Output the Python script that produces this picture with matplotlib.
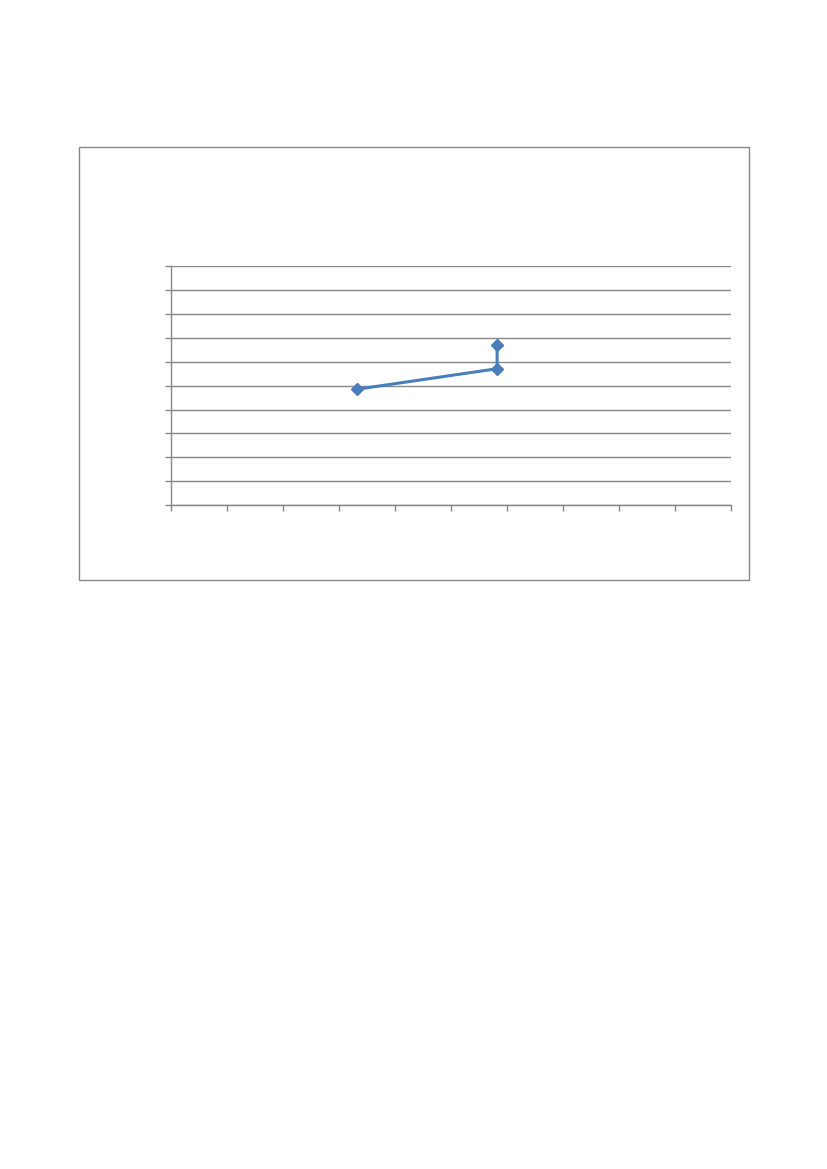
import matplotlib
matplotlib.use("Agg")
import matplotlib.pyplot as plt
from matplotlib.patches import Rectangle

x_values = [3.33, 5.83, 5.83]
y_values = [4.85, 5.71, 6.70]
x_ticks = list(range(0, 11))
y_ticks = list(range(0, 11))

W, H = 827, 1169
fig = plt.figure(figsize=(W / 100, H / 100), dpi=100)
fig.patch.set_facecolor("white")

# chart border box
box = Rectangle((78.5 / W, 1 - 580 / H), (748.5 - 78.5) / W, (580 - 147) / H,
                transform=fig.transFigure, fill=False, edgecolor="#868686", linewidth=1.0)
fig.patches.append(box)

left, right, top, bottom = 170.5, 730.7, 266.3, 505.0
ax = fig.add_axes([left / W, 1 - bottom / H, (right - left) / W, (bottom - top) / H])
ax.set_xlim(0, 10)
ax.set_ylim(0, 10)
ax.set_xticks(x_ticks)
ax.set_yticks(y_ticks)
ax.set_xticklabels([])
ax.set_yticklabels([])
ax.tick_params(axis="both", color="#868686", length=4, width=1.0, direction="out")
for s in ["top", "right"]:
    ax.spines[s].set_visible(False)
for s in ["left", "bottom"]:
    ax.spines[s].set_color("#868686")
    ax.spines[s].set_linewidth(1.0)
ax.grid(axis="y", color="#868686", linewidth=1.0)
ax.set_axisbelow(True)

ax.plot(x_values, y_values, color="#4A7EBB", linewidth=2.2, marker="D",
        markersize=6.5, markerfacecolor="#4A7EBB", markeredgecolor="#4A7EBB",
        clip_on=False, zorder=3)

fig.savefig("out.png", dpi=100)
